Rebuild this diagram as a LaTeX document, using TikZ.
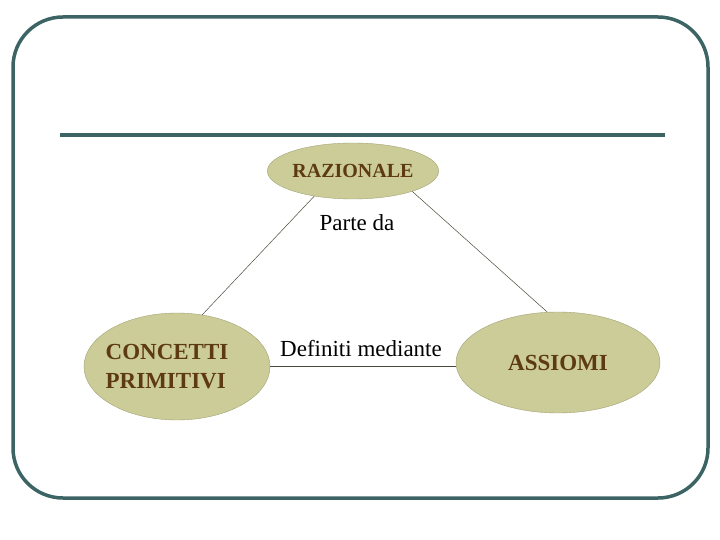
\documentclass[tikz,border=0pt]{standalone}
\usepackage{fontspec}
\setmainfont{Liberation Serif}
\usetikzlibrary{shapes.geometric}

\definecolor{framegreen}{HTML}{3C6464}
\definecolor{khaki}{HTML}{CCCC99}
\definecolor{khakiborder}{HTML}{A3A375}
\definecolor{brownlabel}{HTML}{5E3A12}
\definecolor{linkgray}{HTML}{4A4A3A}

\tikzset{
    concept/.style={draw=khakiborder, fill=khaki, ellipse, inner sep=0pt,
        text=brownlabel, font=\bfseries\fontsize{23}{28}\selectfont},
    link/.style={draw=linkgray, line width=0.5pt},
    linklabel/.style={font=\fontsize{23}{28}\selectfont}
}

\begin{document}
\begin{tikzpicture}[x=1pt,y=-1pt]

    \useasboundingbox (0,0) rectangle (720,540);
    \draw[framegreen, line width=3.5pt, rounded corners=50pt]
        (13,17) rectangle (708,498);
    \draw[framegreen, line width=4pt] (60,135) -- (665,135);

    \node[concept,
        minimum width=166pt,
        minimum height=56pt,
        font=\bfseries\fontsize{20}{24}\selectfont
    ] (raz) at (353,171){RAZIONALE};
    \node[concept,
        minimum width=186pt,
        minimum height=107pt,
        inner xsep=-8pt,
        align=left,
        font=\bfseries\fontsize{23}{29}\selectfont
    ] (conc) at (177,366.5){CONCETTI\hspace*{20pt}\\PRIMITIVI};
    \node[concept,
        minimum width=204pt,
        minimum height=101pt
    ] (ass) at (558,362.5){ASSIOMI};

    \node[linklabel] (parte) at (357,223){Parte da};
    \node[linklabel] (defin) at (361,349){Definiti mediante};

    \draw[link] (raz.213) -- (conc.64);
    \draw[link] (raz.341) -- (ass.102);
    \draw[link] (conc.east) -- (conc.east -| ass.west);

\end{tikzpicture}
\end{document}
